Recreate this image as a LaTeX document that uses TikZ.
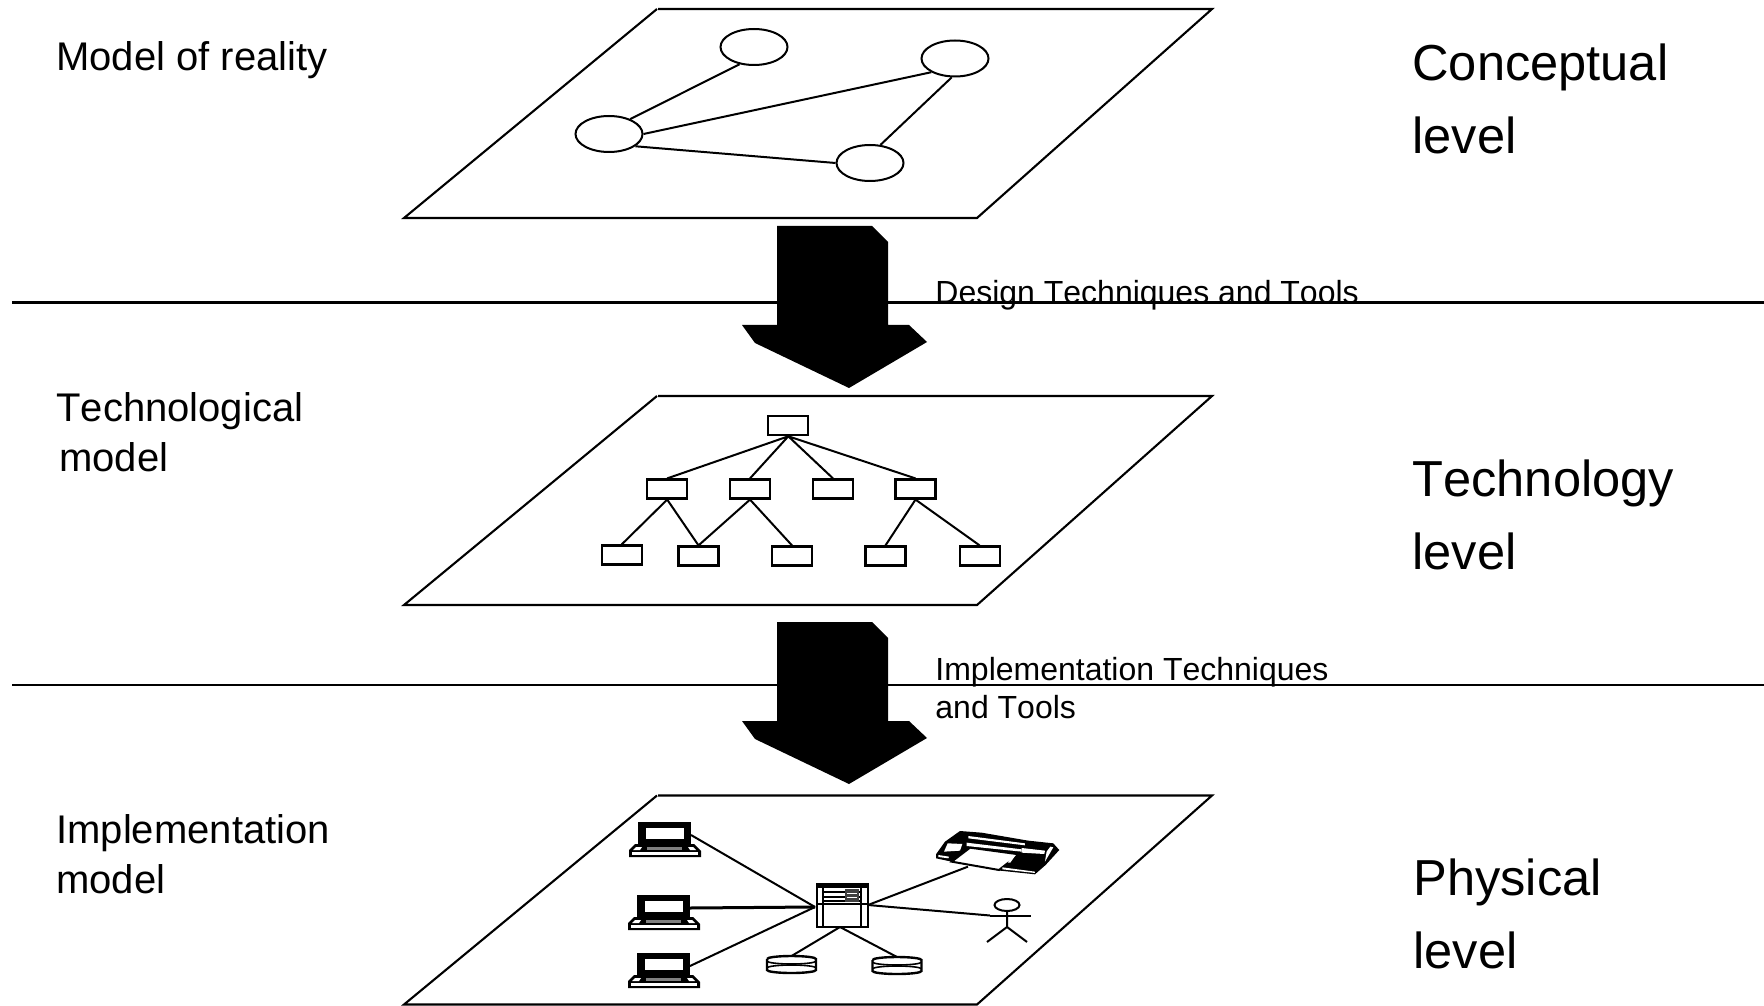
\documentclass[tikz,border=0pt]{standalone}
\usepackage{fontspec}
\setmainfont[Kerning=Off]{Liberation Sans}
\usetikzlibrary{shapes.geometric}
\tikzset{
  x=0.5pt,y=-0.5pt,
  rule/.style={black,line width=1.05pt},
  link/.style={black,line width=1pt},
  hub/.style={ellipse,draw,fill=white,line width=1pt,inner sep=0pt,minimum width=33.5pt,minimum height=18pt},
  box/.style={rectangle,draw,fill=white,line width=1.1pt,inner sep=0pt,minimum width=20pt,minimum height=9.5pt},
  lbl/.style={anchor=base west,inner sep=0pt,font=\fontsize{20}{24}\selectfont},
  lvl/.style={anchor=base west,inner sep=0pt,font=\fontsize{25.3}{30}\selectfont},
  tool/.style={anchor=base west,inner sep=0pt,font=\fontsize{16}{20}\selectfont},
  plane/.pic={
    \draw[rule] (658,0)--(1212,0)--(977,209)--(404,209)--(657,0);
  },
  bigarrow/.pic={
    \fill[black] (777,226)--(872,226)--(888,242)--(888,325)--(909,325)--(927,342)--(849,388)--(755,343)--(742,325)--(777,325)--cycle;
  },
  laptop/.pic={
    \fill[black] (0,0) rectangle (53,22);
    \fill[white] (8,6) rectangle (46,17);
    \draw[black,line width=0.6pt] (3,1) -- (3,21);
    \fill[black] (-3,22)--(56,22)--(63,29)--(63,35)--(-9,35)--(-9,28)--cycle;
    \fill[white] (-6,30) rectangle (60,33);
    \fill[white] (-2,25)--(4,25)--(2,28)--(-5,28)--cycle;
    \fill[white] (50,25)--(55,25)--(58,28)--(52,28)--cycle;
    \fill[gray] (9,25) rectangle (44,28);
    \coordinate (-port) at (53,13);
  },
  server/.pic={
    \fill[white] (0,0) rectangle (51,44);
    \draw[black,line width=1.3pt] (0,1) rectangle (51,44);
    \draw[black,line width=0.9pt] (6,1)--(6,44) (44,1)--(44,44) (0,21)--(51,21);
    \fill[black] (0,0) rectangle (50,5);
    \draw[black,line width=0.7pt] (6,9)--(44,9) (6,14)--(44,14) (6,18)--(44,18);
    \fill[black!75] (28,6) rectangle (42,19);
    \draw[white,line width=0.4pt] (30,10)--(40,10) (30,14)--(40,14);
    \coordinate (-west) at (-2,24);
    \coordinate (-east) at (51,22);
    \coordinate (-south) at (23,44);
  },
  disk/.pic={
    \draw[black,line width=1.2pt,fill=white] (-24.5,2) -- (-24.5,13) arc[start angle=180,end angle=360,x radius=24.5,y radius=-3] -- (24.5,2) arc[start angle=0,end angle=180,x radius=24.5,y radius=-3];
    \draw[black,line width=0.8pt] (-24.5,4) arc[start angle=180,end angle=360,x radius=24.5,y radius=-3];
    \draw[black,line width=0.8pt] (-24.5,11) arc[start angle=180,end angle=0,x radius=24.5,y radius=-3];
    \coordinate (-top) at (0,-1);
  },
}
\begin{document}
\begin{tikzpicture}
\useasboundingbox (0,0) rectangle (1764,1005);
\fill[white] (0,0) rectangle (1764,1005);
% horizontal rules
\coordinate (r1a) at (12,302.5); \coordinate (r1b) at (1764,302.5);
\coordinate (r2a) at (12,685); \coordinate (r2b) at (1764,685);
\draw[rule] (r1a)--(r1b);
\draw[rule] (r2a)--(r2b);
% planes
\pic at (0,9) {plane};
\pic at (0,396) {plane};
\pic at (0,795.5) {plane};
% arrows
\pic at (0,0) {bigarrow};
\pic at (0,396) {bigarrow};
% conceptual
\node[hub] (e1) at (754,47) {};
\node[hub] (e2) at (955,58.5) {};
\node[hub] (e3) at (609,134) {};
\node[hub] (e4) at (870,163) {};
\draw[link] (e3.35)--(e1.230);
\draw[link] (e3.0)--(e2.210);
\draw[link] (e2.260)--(e4.60);
\draw[link] (e3.-25)--(e4.180);
% tree
\node[box] (t0) at (788.3,425.7) {};
\node[box] (ta) at (667.2,489) {};
\node[box] (tb) at (750,489) {};
\node[box] (tc) at (833,489) {};
\node[box] (td) at (915.5,489) {};
\node[box] (u1) at (621.7,555) {};
\node[box] (u2) at (698.5,556) {};
\node[box] (u3) at (792,556) {};
\node[box] (u4) at (885.5,556) {};
\node[box] (u5) at (979.6,556) {};
\draw[link] (t0.south)--(ta.north) (t0.south)--(tb.north) (t0.south)--(tc.north) (t0.south)--(td.north);
\draw[link] (ta.south)--(u1.north) (ta.south)--(u2.north);
\draw[link] (tb.south)--(u2.north) (tb.south)--(u3.north);
\draw[link] (td.south)--(u4.north) (td.south)--(u5.north);
% physical
\pic (l1) at (638,822) {laptop};
\pic (l2) at (637,895) {laptop};
\pic (l3) at (637,953) {laptop};
\pic (sv) at (817,883) {server};
\pic (d1) at (791.5,957) {disk};
\pic (d2) at (897,958) {disk};
% printer (local = zoom px /3)
\begin{scope}[shift={(925,820)},x=0.1666pt,y=-0.1666pt]
\fill[black] (33,103)--(60,65)--(105,33)--(170,38)--(310,62)--(385,70)--(403,90)--(362,135)--(330,163)--(225,152)--(80,125)--(33,115)--cycle;
\draw[black,line width=1pt,fill=white] (80,125)--(135,83)--(282,103)--(222,150)--cycle;
\fill[white] (57,95)--(68,70)--(112,72)--(105,92)--cycle;
\fill[white] (125,68)--(290,88)--(290,95)--(125,78)--cycle;
\fill[white] (130,48)--(300,70)--(300,76)--(130,55)--cycle;
\fill[white] (40,105)--(72,110)--(70,115)--(40,111)--cycle;
\fill[white] (290,84)--(360,92)--(358,102)--(290,98)--cycle;
\fill[white] (248,128)--(262,108)--(270,108)--(256,128)--cycle;
\fill[white] (232,142)--(330,155)--(330,159)--(232,148)--cycle;
\fill[white] (365,95)--(376,80)--(385,82)--(360,125)--cycle;
\coordinate (pr) at (129,140);
\end{scope}
% person
\node[ellipse,draw,line width=1pt,inner sep=0pt,minimum width=12.5pt,minimum height=6pt] (head) at (1007,905) {};
\coordinate (hl) at (990,915.5); \coordinate (hr) at (1031,915.5);
\coordinate (hip) at (1007,927); \coordinate (fl) at (987,942); \coordinate (fr) at (1027,942);
\draw[link] (hl)--(hr);
\draw[link] (head.south)--(hip) (fl)--(hip)--(fr);
% links
\draw[link] (l1-port)--(sv-west);
\draw[link,line width=1.5pt] (l2-port)--(sv-west);
\draw[link] (l3-port)--(sv-west);
\draw[link] (sv-east)--(pr);
\draw[link] (sv-east)--(hl);
\draw[link] (sv-south)--(d1-top);
\draw[link] (sv-south)--(d2-top);
% text
\node[lbl] (m1) at (56,70.5) {Model of reality};
\node[lbl] (m2) at (56,421) {Technological};
\node[lbl] (m3) at (59,471) {model};
\node[lbl] (m4) at (56,843) {Implementation};
\node[lbl] (m5) at (56,893) {model};
\node[lvl] (c1) at (1412,81) {Conceptual};
\node[lvl] (c2) at (1412,154) {level};
\node[lvl] (c3) at (1412,496) {Technology};
\node[lvl] (c4) at (1412,569) {level};
\node[lvl] (c5) at (1413,895) {Physical};
\node[lvl] (c6) at (1413,968) {level};
\node[tool] (s1) at (935,304) {Design Techniques and Tools};
\node[tool] (s2) at (935,680) {Implementation Techniques};
\node[tool] (s3) at (935,718) {and Tools};
\end{tikzpicture}
\end{document}
